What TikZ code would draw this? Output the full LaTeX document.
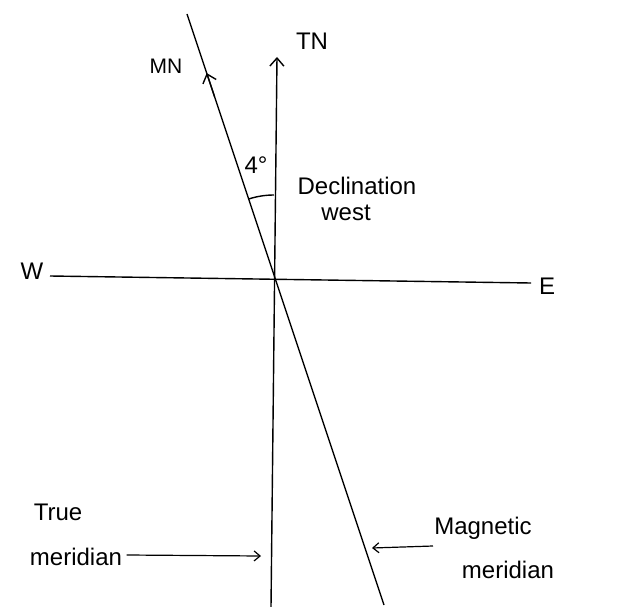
\documentclass[tikz,border=0pt]{standalone}
\usepackage{fontspec}
\setmainfont{Liberation Sans}
\usetikzlibrary{arrows.meta,calc}
\begin{document}
\begin{tikzpicture}[x=1pt,y=1pt,line width=1.4pt,
  lbl/.style={font=\fontsize{24}{28}\selectfont,inner sep=0pt},
  tip/.style={-{Straight Barb[length=8pt,width=14pt,line width=1.4pt]}},
  smalltip/.style={-{Straight Barb[length=6pt,width=10pt,line width=1.2pt]}}]
\useasboundingbox (0,0) rectangle (642,-607);
% key points
\coordinate (O) at (274,-277);
\coordinate (TNtop) at (277,-57);
\coordinate (TNbot) at (271,-607);
\coordinate (MNtop) at (187,-14);
\coordinate (MNbot) at (384,-605);
\coordinate (Wend) at (50,-276);
\coordinate (Eend) at (531,-283);
% meridians and E-W line
\draw[tip] (TNbot) -- (TNtop);
\draw (MNbot) -- (MNtop);
\draw[tip] ($(MNbot)!0.86!(MNtop)$) -- ($(MNbot)!0.9!(MNtop)$);
\draw (Wend) -- (Eend);
% declination arc
\draw (O) ++(90:82) arc (90:108:82);
% labels
\node[lbl] (TN) at (312,-41) {TN};
\node[lbl,font=\fontsize{21}{24}\selectfont] (MN) at (166,-66) {MN};
\node[lbl] (W) at (32,-271) {W};
\node[lbl] (E) at (547,-286) {E};
\node[lbl] (ang) at (256,-165) {4\textdegree};
\node[lbl] (decl) at (357,-186) {Declination};
\node[lbl] (west) at (346,-213) {west};
\node[lbl] (true) at (58,-512) {True};
\node[lbl] (tmer) at (76,-557) {meridian};
\node[lbl] (mag) at (483,-528) {Magnetic};
\node[lbl] (mmer) at (508,-570) {meridian};
% pointer arrows
\coordinate (tpt) at (261,-556);
\coordinate (mpt) at (372,-548);
\draw[smalltip,line width=1.2pt] (tmer.east) ++(4,2) -- (tpt);
\draw[smalltip,line width=1.2pt] (433,-546) -- (mpt);
\end{tikzpicture}
\end{document}
